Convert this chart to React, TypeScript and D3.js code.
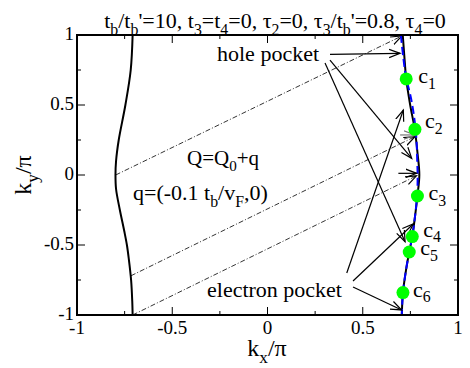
import React from "react";
import * as d3 from "d3";

// ---------- data ----------
const titleText = "t_b/t_b'=10,  t_3=t_4=0, τ_2=0, τ_3/t_b'=0.8, τ_4=0";
const xTickValues = [-1, -0.5, 0, 0.5, 1];
const xTickLabels = ["-1", "-0.5", "0", "0.5", "1"];
const yTickValues = [-1, -0.5, 0, 0.5, 1];
const yTickLabels = ["-1", "-0.5", "0", "0.5", "1"];
const minorTicks = [-0.75, -0.25, 0.25, 0.75];

// left Fermi surface sheet (kx as a function of ky)
const leftKy = [1, 0.75, 0.5, 0.25, 0.1, 0, -0.1, -0.25, -0.4, -0.5, -0.6, -0.75, -0.9, -1];
const leftKx = [-0.708, -0.718, -0.746, -0.781, -0.795, -0.798, -0.795, -0.775, -0.752, -0.738, -0.728, -0.716, -0.710, -0.708];

// right Fermi surface sheet (black solid)
const rightKy = [1, 0.8, 0.686, 0.5, 0.326, 0.15, 0, -0.15, -0.3, -0.44, -0.55, -0.68, -0.84, -1];
const rightKx = [0.710, 0.721, 0.728, 0.749, 0.773, 0.788, 0.797, 0.787, 0.774, 0.760, 0.744, 0.727, 0.711, 0.705];

// shifted left sheet (blue dashed)
const shiftKy = [1, 0.85, 0.7, 0.55, 0.4, 0.25, 0.1, 0, -0.1, -0.2, -0.3, -0.44, -0.55, -0.68, -0.84, -1];
const shiftKx = [0.700, 0.712, 0.727, 0.753, 0.771, 0.782, 0.786, 0.788, 0.787, 0.782, 0.774, 0.760, 0.744, 0.727, 0.711, 0.705];

// hot spots c1..c6
const spotNames = ["1", "2", "3", "4", "5", "6"];
const spotKx = [0.728, 0.774, 0.787, 0.760, 0.744, 0.711];
const spotKy = [0.686, 0.326, -0.15, -0.44, -0.55, -0.84];

// nesting vectors (dash-dot)
const nestFromKx = [-0.797, -0.717, -0.708];
const nestFromKy = [0.0, -0.72, -1.0];
const nestToKx = [0.705, 0.774, 0.782];
const nestToKy = [0.993, 0.274, -0.006];

// annotation arrows
const arrowFromKx = [0.328, 0.328, 0.302, 0.416, 0.449, 0.449, 0.696, 0.687];
const arrowFromKy = [0.862, 0.821, 0.80, -0.70, -0.757, -0.80, 0.286, 0.012];
const arrowToKx = [0.696, 0.757, 0.722, 0.713, 0.765, 0.704, 0.774, 0.783];
const arrowToKy = [0.869, 0.119, -0.476, 0.464, -0.35, -0.964, 0.286, 0.012];
const arrowGray = [false, false, false, false, false, false, true, false];

// ---------- layout ----------
const W = 470, H = 368;
const L = 77, R = 458, T = 35, B = 315;
const FONT = "'Liberation Serif', 'Times New Roman', Tinos, 'DejaVu Serif', serif";
// label offsets (pixels) for the c_i labels relative to their dots
const spotLabelDx = [12, 10, 11, 11, 11, 10];
const spotLabelDy = [4, -1, 4, 0, 3, 4];

type Seg = { t: string; sub: boolean };
function parseRich(s: string): Seg[] {
  const out: Seg[] = [];
  let i = 0;
  let buf = "";
  while (i < s.length) {
    if (s[i] === "_") {
      if (buf) out.push({ t: buf, sub: false });
      buf = "";
      out.push({ t: s[i + 1], sub: true });
      i += 2;
    } else {
      buf += s[i];
      i++;
    }
  }
  if (buf) out.push({ t: buf, sub: false });
  return out;
}

function Rich({ s, x, y, size, anchor = "start", transform, subRatio = 0.72, subShift = 0.3 }: { s: string; x: number; y: number; size: number; anchor?: string; transform?: string; subRatio?: number; subShift?: number }) {
  const segs = parseRich(s);
  const subSize = size * subRatio;
  const shift = size * subShift;
  let cur = 0;
  return (
    <text x={x} y={y} style={{ fontFamily: FONT, fontSize: size }} textAnchor={anchor} transform={transform} fill="#000">
      {segs.map((g, k) => {
        const target = g.sub ? shift : 0;
        const dy = target - cur;
        cur = target;
        return (
          <tspan key={k} dy={dy} style={{ fontSize: g.sub ? subSize : size }}>
            {g.t}
          </tspan>
        );
      })}
    </text>
  );
}

export default function App() {
  const x = d3.scaleLinear().domain([-1, 1]).range([L, R]);
  const y = d3.scaleLinear().domain([-1, 1]).range([B, T]);

  const line = d3
    .line<[number, number]>()
    .x((d) => x(d[0]))
    .y((d) => y(d[1]))
    .curve(d3.curveCatmullRom.alpha(0.5));

  const leftPts = leftKy.map((k, i) => [leftKx[i], k] as [number, number]);
  const rightPts = rightKy.map((k, i) => [rightKx[i], k] as [number, number]);
  const shiftPts = shiftKy.map((k, i) => [shiftKx[i], k] as [number, number]);

  const majorLen = 8, minorLen = 4;

  return (
    <svg width={W} height={H} style={{ position: "absolute", left: 0, top: 0, background: "#fff" }}>
      <defs>
        <marker id="ah" markerUnits="userSpaceOnUse" markerWidth="14" markerHeight="12" refX="11" refY="5" orient="auto" viewBox="0 0 14 10">
          <path d="M0,0.8 L11,5 L0,9.2" fill="none" stroke="#000" strokeWidth="1.2" />
        </marker>
        <marker id="ahg" markerUnits="userSpaceOnUse" markerWidth="14" markerHeight="12" refX="11" refY="5" orient="auto" viewBox="0 0 14 10">
          <path d="M0,0.8 L11,5 L0,9.2" fill="none" stroke="#777" strokeWidth="1.2" />
        </marker>
      </defs>
      <rect x={0} y={0} width={W} height={H} fill="#fff" />

      {nestFromKx.map((_, i) => (
        <line
          key={"n" + i}
          x1={x(nestFromKx[i])}
          y1={y(nestFromKy[i])}
          x2={x(nestToKx[i])}
          y2={y(nestToKy[i])}
          stroke="#000"
          strokeWidth={0.8}
          strokeDasharray="5,2,1,2"
          markerEnd="url(#ah)"
        />
      ))}

      <path d={line(leftPts) || ""} fill="none" stroke="#000" strokeWidth={2} />
      <path d={line(rightPts) || ""} fill="none" stroke="#000" strokeWidth={2} />
      <path d={line(shiftPts) || ""} fill="none" stroke="#0000ff" strokeWidth={2} strokeDasharray="8,4" />

      {arrowFromKx.map((_, i) => (
        <line
          key={"a" + i}
          x1={x(arrowFromKx[i])}
          y1={y(arrowFromKy[i])}
          x2={x(arrowToKx[i])}
          y2={y(arrowToKy[i])}
          stroke={arrowGray[i] ? "#777" : "#000"}
          strokeWidth={1.2}
          markerEnd={arrowGray[i] ? "url(#ahg)" : "url(#ah)"}
        />
      ))}

      {spotKx.map((_, i) => (
        <circle key={"c" + i} cx={x(spotKx[i])} cy={y(spotKy[i])} r={6.5} fill="#00ff00" />
      ))}
      {spotKx.map((_, i) => (
        <Rich key={"cl" + i} s={"c_" + spotNames[i]} x={x(spotKx[i]) + spotLabelDx[i]} y={y(spotKy[i]) + spotLabelDy[i]} size={22} subShift={0.26} />
      ))}

      <Rich s="hole pocket" x={217} y={61} size={22} />
      <Rich s="electron pocket" x={207} y={297} size={22} />
      <Rich s="Q=Q_0+q" x={187} y={165} size={21} />
      <Rich s="q=(-0.1 t_b/v_F,0)" x={133} y={200} size={22} />

      <rect x={L} y={T} width={R - L} height={B - T} fill="none" stroke="#000" strokeWidth={2} />

      {xTickValues.map((v, i) => (
        <g key={"xt" + i}>
          <line x1={x(v)} x2={x(v)} y1={B} y2={B - majorLen} stroke="#000" strokeWidth={1} />
          <line x1={x(v)} x2={x(v)} y1={T} y2={T + majorLen} stroke="#000" strokeWidth={1} />
        </g>
      ))}
      {minorTicks.map((v, i) => (
        <g key={"xm" + i}>
          <line x1={x(v)} x2={x(v)} y1={B} y2={B - minorLen} stroke="#000" strokeWidth={1} />
          <line x1={x(v)} x2={x(v)} y1={T} y2={T + minorLen} stroke="#000" strokeWidth={1} />
          <line y1={y(v)} y2={y(v)} x1={L} x2={L + minorLen} stroke="#000" strokeWidth={1} />
          <line y1={y(v)} y2={y(v)} x1={R} x2={R - minorLen} stroke="#000" strokeWidth={1} />
        </g>
      ))}
      {yTickValues.map((v, i) => (
        <g key={"yt" + i}>
          <line y1={y(v)} y2={y(v)} x1={L} x2={L + majorLen} stroke="#000" strokeWidth={1} />
          <line y1={y(v)} y2={y(v)} x1={R} x2={R - majorLen} stroke="#000" strokeWidth={1} />
        </g>
      ))}

      {xTickValues.map((v, i) => (
        <text key={"xl" + i} x={x(v)} y={334} style={{ fontFamily: FONT, fontSize: 19 }} textAnchor="middle">
          {xTickLabels[i]}
        </text>
      ))}
      {yTickValues.map((v, i) => (
        <text key={"yl" + i} x={74} y={y(v) + 5} style={{ fontFamily: FONT, fontSize: 19 }} textAnchor="end">
          {yTickLabels[i]}
        </text>
      ))}

      <Rich s="k_x/π" x={267} y={356} size={24} anchor="middle" />
      <Rich s="k_y/π" x={0} y={0} size={24} anchor="middle" transform="translate(31,175) rotate(-90)" />

      <Rich s={titleText} x={275} y={28} size={22} anchor="middle" />
    </svg>
  );
}
